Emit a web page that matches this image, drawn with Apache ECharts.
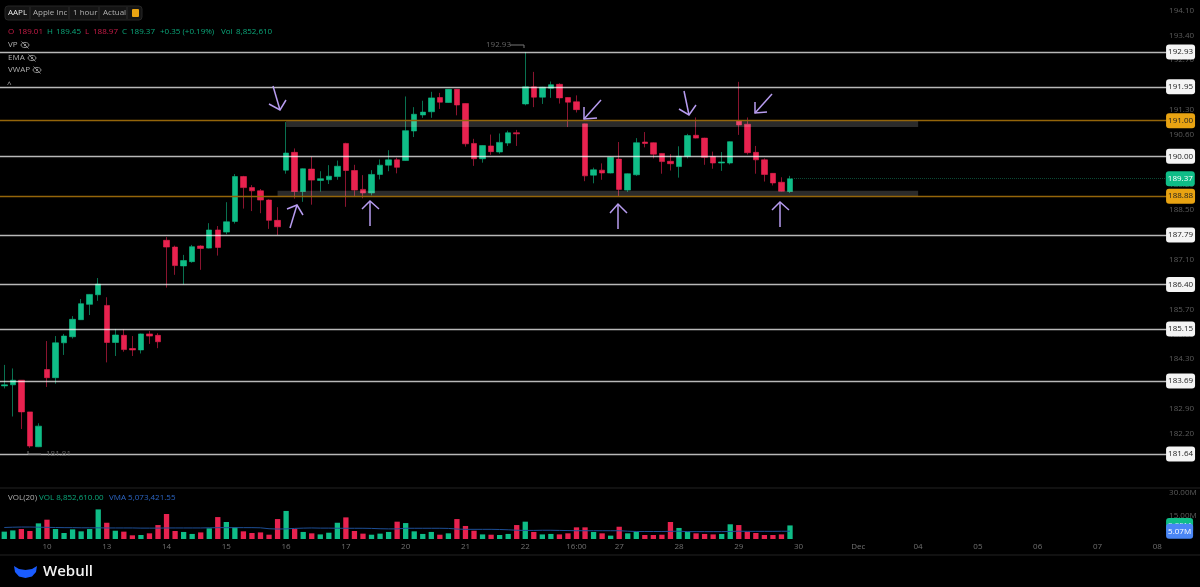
<!DOCTYPE html>
<html>
<head>
<meta charset="utf-8">
<title>AAPL 1 hour</title>
<style>
  html, body { margin: 0; padding: 0; background: #000; }
  #chart { width: 1200px; height: 587px; }
</style>
<script src="https://cdn.jsdelivr.net/npm/echarts@6/dist/echarts.min.js"></script>
</head>
<body>
<div id="chart"></div>
<script>
// hourly bars
const opens = [183.55,183.58,183.71,182.82,181.84,184.01,183.78,184.76,184.93,185.41,185.84,186.11,185.81,184.77,184.97,184.60,184.56,185.01,184.97,
  187.64,187.45,186.92,187.04,187.48,187.42,187.93,187.87,188.17,189.43,189.12,189.03,188.77,188.20,189.61,190.11,189.01,189.64,189.32,189.34,189.43,
  190.36,189.60,189.07,188.97,189.49,189.75,189.90,189.88,190.71,191.16,191.25,191.65,191.51,191.88,191.48,190.36,189.93,190.29,190.12,190.37,190.66,
  191.47,191.95,191.66,191.91,192.02,191.65,191.53,190.91,189.47,189.61,189.53,189.92,189.05,189.48,190.40,190.38,190.08,189.86,189.71,190.00,190.59,
  190.51,189.99,189.81,189.81,190.99,190.90,190.11,189.90,189.52,189.27,189.01]
const closes = [183.58,183.71,182.82,181.86,182.42,183.78,184.76,184.95,185.42,185.86,186.12,186.41,184.77,184.98,184.57,184.56,185.01,184.95,184.79,
  187.45,186.93,187.07,187.46,187.41,187.93,187.44,188.16,189.43,189.12,189.03,188.77,188.20,188.02,190.09,189.01,189.65,189.33,189.37,189.44,189.72,
  189.60,189.05,188.97,189.49,189.75,189.90,189.69,190.72,191.18,191.24,191.64,191.52,191.88,191.44,190.35,189.93,190.30,190.13,190.39,190.66,190.63,
  191.95,191.66,191.94,192.01,191.64,191.52,191.31,189.45,189.62,189.53,189.97,189.07,189.51,190.38,190.36,190.06,189.85,189.79,190.00,190.58,190.51,
  189.97,189.81,189.84,190.41,190.88,190.10,189.90,189.49,189.25,189.02,189.37]
const lows = [183.48,182.69,182.34,181.81,181.83,183.52,183.61,184.42,184.88,185.40,185.54,185.94,184.21,184.39,184.51,184.39,184.46,184.73,184.61,
  186.31,186.67,186.40,187.01,186.81,187.41,187.21,187.81,188.11,188.53,188.46,188.40,187.96,187.79,189.51,188.81,188.72,188.64,189.01,189.22,189.34,
  188.58,188.88,188.82,188.90,189.35,189.58,189.52,189.87,190.54,191.08,191.08,191.33,191.50,191.15,190.27,189.73,189.82,190.04,190.07,190.29,190.29,
  191.43,191.38,191.47,191.64,191.48,190.82,191.23,189.30,189.24,189.34,189.52,188.88,189.00,189.45,190.25,189.94,189.51,189.60,189.40,189.94,190.50,
  189.76,189.65,189.59,189.77,190.60,190.05,189.51,189.29,189.18,189.01,188.97]
const highs = [184.14,184.04,183.71,182.82,182.50,184.81,184.95,185.01,185.51,185.99,186.13,186.58,186.04,185.15,185.14,184.95,185.02,185.09,185.03,
  187.73,187.49,187.23,187.51,187.50,188.12,188.04,188.71,189.50,189.45,189.19,189.08,188.79,188.57,190.96,190.22,189.66,189.99,189.58,189.75,189.88,
  190.38,189.76,189.47,189.61,189.91,190.17,189.96,191.68,191.38,191.56,191.81,191.78,191.89,191.89,191.49,190.49,190.31,190.61,190.64,190.72,190.74,
  192.93,192.37,191.95,192.10,192.05,191.66,191.71,190.92,189.68,189.80,189.99,190.40,189.52,190.51,190.68,190.39,190.09,190.06,190.28,190.63,191.09,
  190.52,190.13,190.12,190.42,192.09,191.09,190.29,189.94,189.53,189.41,189.45]
// volume in millions
const volumes = [4.8,5.6,6.5,5.2,10.2,12.6,6.5,3.9,6.3,5,6.5,19.3,10.6,5.4,4.8,2.4,2.6,3.7,9.1,16.3,5.2,4.6,3.3,4.3,7,14.3,11.1,7.6,5,3.9,4.3,2.8,13,18.3,6.5,4.6,3.7,3,4.1,10.6,14.1,5.2,3.5,2.8,3.5,4.6,11.3,
  10.4,5,3.3,4.6,2.8,3.7,13,8.5,5.4,3,2.8,2.6,3.3,9.1,11.3,4.6,3,3.3,3,3.7,7.6,7.6,4.6,3.7,2.2,8,3.7,4.8,2.6,2.6,2.8,11.1,7.2,4.8,3.7,3.3,3,3.3,9.6,9.1,4.8,3.9,2.6,2.6,3,8.85261]
const vma = [7.5,7.7,7.8,7.8,7.7,7.6,7.5,7.4,7.4,7.3,7.3,7.3,7.2,7.2,7.2,7.2,7.1,7.1,7.1,7.2,7.2,7.2,7.2,7.2,7.3,7.4,7.4,7.4,7.4,7.4,7.3,6.7,6.5,6.6,6.9,7.1,7.2,7.1,7.1,7,7,7,7,6.9,6.7,6.6,6.6,
  7,7,7,7,7,6.9,6.5,6.3,6.3,6.3,6.3,6.2,6,5.7,5.6,5.6,5.7,5.7,5.6,5.5,5.4,5.4,5.4,5.4,5.4,5.4,5.1,4.9,4.9,4.9,4.9,5,5.1,4.8,4.8,4.8,4.8,4.8,4.9,5.1,5,5,5,5,5.05,5.07]
const dateTicks = {5:'10',12:'13',19:'14',26:'15',33:'16',40:'17',47:'20',54:'21',61:'22',67:'16:00',72:'27',79:'28',86:'29',93:'30',100:'Dec',107:'04',114:'05',121:'06',128:'07',135:'08'}
const whiteLevels = [192.93,191.95,190.00,187.79,186.40,185.15,183.69,181.64]
const orangeLevels = [191.00,188.88]
const lastClose = 189.37
const lastVol = 8.85
const lastVma = 5.07
const zones = [[190.82,191.00],[188.88,189.03]]

const UP = '#0fbd87', DOWN = '#e8224f'
const FONT = '"Open Sans", "Noto Sans", sans-serif'
const BAND = 8.55
const BARS = 137 // bars plus the empty days on the right

const categories = []
for (let i = 0; i < BARS; i++) categories.push(dateTicks[i] || '')

const tag = (bg, fg) => ({
  show: true, position: 'end', distance: -4,
  backgroundColor: bg, color: fg, borderRadius: 3,
  padding: [0, 2], lineHeight: 15,
  fontSize: 8, fontFamily: FONT,
  formatter: (p) => p.value.toFixed(2)
})
const priceLines = whiteLevels.map((v) => ({
  yAxis: v,
  lineStyle: { color: 'rgba(255,255,255,0.72)', width: 1.4, type: 'solid' },
  label: tag('#f4f4f4', '#222')
})).concat(orangeLevels.map((v) => ({
  yAxis: v,
  lineStyle: { color: '#94650a', width: 1.4, type: 'solid' },
  label: tag('#e8a312', '#222')
})))

// pixel annotations: hand drawn arrows and header
const arrowPts = [
  [[273,86],[280,110]], [[269,104],[280,110],[286,100]],
  [[290,228],[297,205]], [[287,209],[297,205],[303,215]],
  [[370,226],[370,201]], [[362,209],[370,201],[379,209]],
  [[601,100],[584,119]], [[584,107],[584,119],[597,118]],
  [[618,229],[618,204]], [[610,213],[618,204],[627,213]],
  [[684,91],[689,115]], [[679,109],[689,115],[696,105]],
  [[772,94],[755,113]], [[755,102],[755,113],[767,112]],
  [[780,227],[780,202]], [[772,210],[780,202],[789,210]]
]
const poly = (points, stroke, lineWidth) => ({ type: 'polyline', silent: true, z: 20, shape: { points }, style: { stroke, lineWidth, fill: null } })
const txt = (x, y, text, fill, size, extra) => ({ type: 'text', silent: true, z: 20, x, y, style: Object.assign({ text, fill, fontSize: size || 8, fontFamily: FONT, verticalAlign: 'middle' }, extra) })
const eye = (x, y) => ({
  type: 'group', x, y, z: 20, silent: true,
  children: [
    { type: 'ellipse', shape: { cx: 0, cy: 0, rx: 4, ry: 2.6 }, style: { stroke: '#8a8a8a', fill: null, lineWidth: 1 } },
    { type: 'circle', shape: { cx: 0, cy: 0, r: 1.2 }, style: { fill: '#8a8a8a' } },
    { type: 'line', shape: { x1: -3.5, y1: -3.5, x2: 3.5, y2: 3.5 }, style: { stroke: '#8a8a8a', lineWidth: 1 } }
  ]
})
const RED = '#cc1c49', GREEN = '#0ba87b', GREY = '#b0b0b0'
const graphics = [
  poly([[0,488],[1200,488]], '#222', 1),
  poly([[0,555],[1200,555]], '#222', 1),
  ...arrowPts.map((p) => poly(p, '#b79cf0', 1.5)),
  { type: 'rect', silent: true, z: 19, shape: { x: 5, y: 6, width: 137, height: 14, r: 3 }, style: { fill: '#141414', stroke: '#262626' } },
  poly([[30,7],[30,19]], '#2c2c2c', 1), poly([[69,7],[69,19]], '#2c2c2c', 1),
  poly([[99,7],[99,19]], '#2c2c2c', 1), poly([[127,7],[127,19]], '#2c2c2c', 1),
  txt(8, 13, 'AAPL', '#e8e8e8'), txt(33, 13, 'Apple Inc', GREY), txt(73, 13, '1 hour', GREY), txt(103, 13, 'Actual', GREY),
  { type: 'rect', silent: true, z: 20, shape: { x: 132, y: 9, width: 7, height: 8, r: 1 }, style: { fill: '#e8a312' } },
  txt(8, 32, 'O', RED), txt(18, 32, '189.01', RED),
  txt(47, 32, 'H', GREEN), txt(56, 32, '189.45', GREEN),
  txt(85, 32, 'L', RED), txt(93, 32, '188.97', RED),
  txt(122, 32, 'C', GREEN), txt(130, 32, '189.37', GREEN),
  txt(160, 32, '+0.35 (+0.19%)', GREEN), txt(221, 32, 'Vol', GREEN), txt(236, 32, '8,852,610', GREEN),
  txt(8, 45, 'VP', GREY), eye(25, 45),
  txt(8, 58, 'EMA', GREY), eye(32, 58),
  txt(8, 70, 'VWAP', GREY), eye(37, 70),
  txt(7, 85, '^', GREY),
  txt(486, 45, '192.93', '#666'),
  poly([[510,45],[524,45],[524,48]], '#777', 1),
  txt(46, 454, '181.81', '#666'),
  poly([[28,451],[28,454],[41,454]], '#777', 1),
  txt(8, 498, 'VOL(20)', GREY), txt(39, 498, 'VOL 8,852,610.00', GREEN), txt(109, 498, 'VMA 5,073,421.55', '#2c66c4'),
  { type: 'polygon', silent: true, z: 20, shape: { points: [[14,566],[19,569],[25.5,570],[32,569],[37,566],[36,572],[32,576.5],[25.5,578],[19,576.5],[15,572]] }, style: { fill: '#1a5cff' } },
  txt(43, 572, 'Webull', '#f2f2f2', 15, { fontWeight: 600 })
]

const noLine = { color: 'rgba(0,0,0,0)', width: 1 }
const option = {
  backgroundColor: '#000',
  animation: false,
  textStyle: { fontFamily: FONT },
  graphic: graphics,
  grid: [
    { left: -1.275, top: 10.3, width: BAND * BARS, height: 473.5 },
    { left: -1.275, top: 493, width: BAND * BARS, height: 46 }
  ],
  xAxis: [
    { type: 'category', gridIndex: 0, data: categories, show: false },
    {
      type: 'category', gridIndex: 1, data: categories,
      axisLine: { show: false }, axisTick: { show: false },
      axisLabel: { interval: 0, margin: 4, color: '#707070', fontSize: 8, fontFamily: FONT }
    }
  ],
  yAxis: [
    {
      type: 'value', gridIndex: 0, position: 'right', min: 180.8, max: 194.1, interval: 0.7,
      splitLine: { show: false }, axisLine: { show: false }, axisTick: { show: false },
      axisLabel: { showMinLabel: false, margin: -1, color: '#5c5c5c', fontSize: 8, fontFamily: FONT, formatter: (v) => v.toFixed(2) }
    },
    {
      type: 'value', gridIndex: 1, position: 'right', min: 0, max: 30, interval: 15,
      splitLine: { show: false }, axisLine: { show: false }, axisTick: { show: false },
      axisLabel: { showMinLabel: false, margin: -1, color: '#5c5c5c', fontSize: 8, fontFamily: FONT, formatter: (v) => v.toFixed(2) + 'M' }
    }
  ],
  series: [
    {
      type: 'candlestick', name: 'AAPL', xAxisIndex: 0, yAxisIndex: 0,
      barWidth: 6,
      data: opens.map((o, i) => [o, closes[i], lows[i], highs[i]]),
      itemStyle: { color: UP, color0: DOWN, borderColor: UP, borderColor0: DOWN, borderWidth: 0.6 },
      markArea: {
        silent: true, z: 4,
        itemStyle: { color: 'rgba(255,255,255,0.17)' },
        data: [
          [{ xAxis: 33, yAxis: zones[0][1] }, { xAxis: 107, yAxis: zones[0][0] }],
          [{ xAxis: 32, yAxis: zones[1][1] }, { xAxis: 107, yAxis: zones[1][0] }]
        ]
      },
      markLine: {
        silent: true, symbol: 'none', z: 5, animation: false,
        data: priceLines.concat([
          [
            { coord: [92, lastClose], lineStyle: { color: '#0b4a36', width: 1, type: 'dotted' }, label: Object.assign(tag(UP, '#fff'), { distance: 0, formatter: lastClose.toFixed(2) }) },
            { coord: [136, lastClose] }
          ]
        ])
      }
    },
    {
      type: 'bar', name: 'VOL', xAxisIndex: 1, yAxisIndex: 1,
      barWidth: 5.3,
      data: volumes.map((v, i) => ({ value: v, itemStyle: { color: closes[i] >= opens[i] ? UP : DOWN } })),
      markLine: {
        silent: true, symbol: 'none', z: 6, animation: false,
        data: [
          { yAxis: lastVol, lineStyle: noLine, label: Object.assign(tag(UP, '#fff'), { formatter: (p) => p.value.toFixed(2) + 'M' }) },
          { yAxis: lastVma, lineStyle: noLine, label: Object.assign(tag('#4a86f5', '#fff'), { formatter: (p) => p.value.toFixed(2) + 'M' }) }
        ]
      }
    },
    {
      type: 'line', name: 'VMA', xAxisIndex: 1, yAxisIndex: 1,
      data: vma, showSymbol: false, lineStyle: { color: '#1e4f96', width: 1 }
    }
  ]
}

const chart = echarts.init(document.getElementById('chart'), null, { renderer: 'canvas' })
chart.setOption(option)
</script>
</body>
</html>
